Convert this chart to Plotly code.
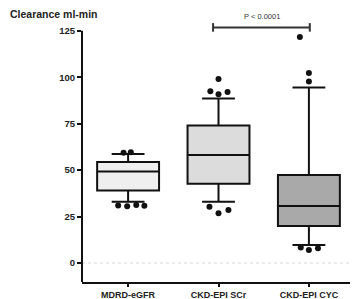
import plotly.graph_objects as go

# ---- data ----
categories = ["MDRD-eGFR", "CKD-EPI SCr", "CKD-EPI CYC"]
q1 = [39.0, 42.6, 19.9]
median = [49.2, 58.2, 30.7]
q3 = [54.3, 74.0, 47.4]
lower_whisker = [33.0, 33.0, 9.7]
upper_whisker = [58.7, 88.5, 94.4]
outliers = [
    [59.3, 59.6, 31.0, 30.6, 31.2, 30.8],
    [99.0, 92.4, 92.0, 90.8, 30.3, 26.8, 28.5],
    [121.6, 102.2, 97.7, 8.4, 7.0, 7.9],
]
y_ticks = [0, 25, 50, 75, 100, 125]
p_label = "P < 0.0001"
p_value_y = 126.8

# ---- style ----
fills = ["#efefef", "#dcdcdc", "#a9a9a9"]
jitter = [
    [-0.05, 0.03, -0.11, -0.01, 0.09, 0.18],
    [0.0, -0.09, 0.10, 0.0, -0.10, 0.0, 0.11],
    [-0.10, 0.0, 0.0, -0.09, 0.0, 0.10],
]
font_family = "Liberation Sans"
y_min, y_max = -10.2, 134

fig = go.Figure()
for i, cat in enumerate(categories):
    fig.add_trace(go.Box(
        x=[i], q1=[q1[i]], median=[median[i]], q3=[q3[i]],
        lowerfence=[lower_whisker[i]], upperfence=[upper_whisker[i]],
        boxpoints=False, width=0.685, whiskerwidth=0.53,
        fillcolor=fills[i], line=dict(color="#111111", width=2),
        showlegend=False, hoverinfo="skip",
    ))
    fig.add_trace(go.Scatter(
        x=[i + j for j in jitter[i]], y=outliers[i], mode="markers",
        marker=dict(color="#111111", size=6), showlegend=False,
        cliponaxis=False, hoverinfo="skip",
    ))

# zero reference line
fig.add_shape(type="line", xref="paper", x0=0, x1=1, yref="y", y0=0, y1=0,
              line=dict(color="#d8d8d8", width=1, dash="dot"), layer="below")
# y axis line up to top tick
fig.add_shape(type="line", xref="paper", x0=0, x1=0, yref="y", y0=y_min, y1=y_ticks[-1],
              line=dict(color="#111111", width=2))
# significance bracket
fig.add_shape(type="line", x0=0.94, x1=2.01, y0=p_value_y, y1=p_value_y,
              line=dict(color="#333333", width=2))
for xe in (0.94, 2.01):
    fig.add_shape(type="line", x0=xe, x1=xe, y0=p_value_y - 2.3, y1=p_value_y + 2.3,
                  line=dict(color="#333333", width=2))
fig.add_annotation(x=1.48, y=p_value_y + 5.8, text=p_label, showarrow=False,
                   font=dict(family=font_family, size=7.5, color="#333333"))

fig.add_annotation(xref="paper", yref="paper", x=-74 / 273, y=1.0, xanchor="left", yanchor="middle",
                   text="<b>Clearance ml-min</b>", showarrow=False,
                   font=dict(family=font_family, size=10.5, color="#222222"))
fig.update_layout(
    width=350, height=291,
    margin=dict(l=74, r=3, t=6, b=17, autoexpand=False),
    paper_bgcolor="white", plot_bgcolor="white",
    font=dict(family=font_family, size=9, color="#222222"),
    xaxis=dict(range=[-0.51, 2.51], tickmode="array", tickvals=[0, 1, 2],
               ticktext=[f"<b>{c}</b>" for c in categories],
               showline=True, linecolor="#111111", linewidth=2,
               ticks="outside", ticklen=3, tickwidth=2, tickcolor="#111111",
               showgrid=False, zeroline=False, automargin=False),
    yaxis=dict(range=[y_min, y_max], tickmode="array", tickvals=y_ticks,
               ticktext=[f"<b>{t}</b>" for t in y_ticks],
               tickfont=dict(size=9.5),
               showline=False, ticks="outside", ticklen=4, tickwidth=2,
               tickcolor="#111111", showgrid=False, zeroline=False, automargin=False),
)
fig.write_html("out.html")
